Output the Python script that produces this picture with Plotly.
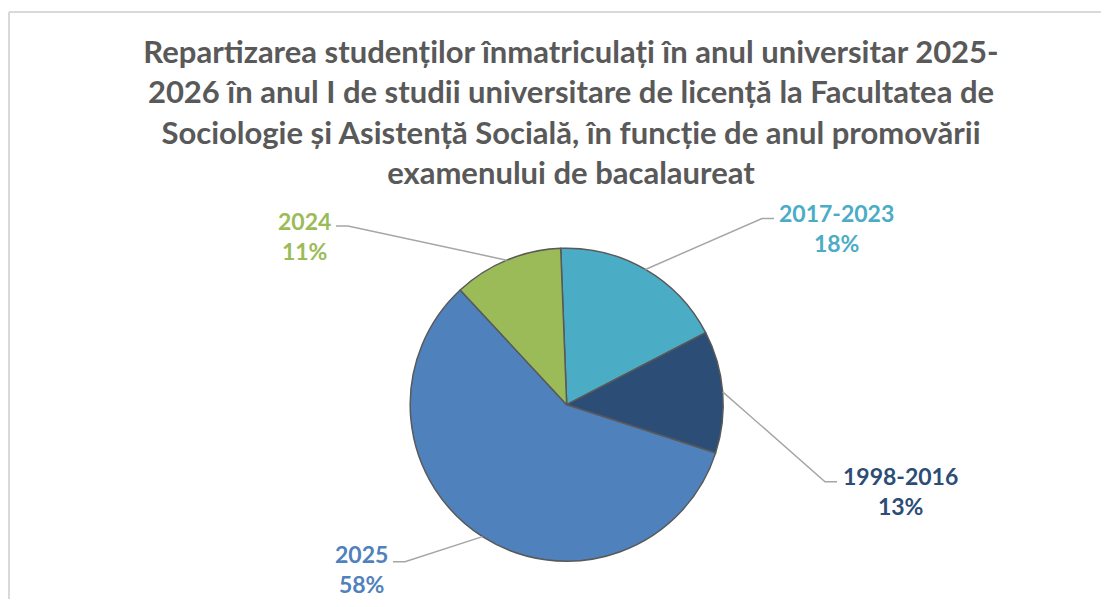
import math
import plotly.graph_objects as go

# ---- data ----
categories = ["2017-2023", "1998-2016", "2025", "2024"]
values = [18.0, 12.6, 58.1, 11.3]
colors = ["#4BACC6", "#2C4D75", "#4F81BD", "#9BBB59"]
title_text = ("Repartizarea studenților înmatriculați în anul universitar 2025-<br>"
              "2026 în anul I de studii universitare de licență la Facultatea de<br>"
              "Sociologie și Asistență Socială, în funcție de anul promovării<br>"
              "examenului de bacalaureat")

# the page body has an 8px margin; the figure fits inside it
BODY = 8
W, H = 1109 - 2 * BODY, 607 - 2 * BODY
CX, CY, R = 566.7, 404.7, 156.5   # window pixel coords
ROT = -2.2

def px(x):
    return (x - BODY) / W

def py(y):
    return 1 - (y - BODY) / H

fig = go.Figure()
fig.add_trace(go.Pie(
    labels=categories, values=values, sort=False, direction="clockwise",
    rotation=ROT, textinfo="none", hoverinfo="label+percent",
    marker=dict(colors=colors, line=dict(color="#595959", width=1.5)),
    domain=dict(x=[px(CX - R), px(CX + R)], y=[py(CY + R), py(CY - R)]),
    showlegend=False,
))

# label block centres and leader elbows (layout positions, window pixels)
label_pos = {
    "2017-2023": dict(cx=836.5, cy=228, elbow=[(774, 218.5), (762, 218.5)]),
    "1998-2016": dict(cx=900, cy=491, elbow=[(837, 481.7), (825, 481.7)]),
    "2025": dict(cx=361, cy=569, elbow=[(393, 561.7), (405, 561.7)]),
    "2024": dict(cx=304.5, cy=236, elbow=[(336, 226), (348, 226)]),
}

total = sum(values)
shapes = []
annotations = []
start = ROT
for cat, val, col in zip(categories, values, colors):
    ang = 360 * val / total
    mid = math.radians(start + ang / 2)
    start += ang
    ex = CX + R * math.sin(mid)
    ey = CY - R * math.cos(mid)
    lp = label_pos[cat]
    (x0, y0), (x1, y1) = lp["elbow"]
    path = f"M {px(x0)},{py(y0)} L {px(x1)},{py(y1)} L {px(ex)},{py(ey)}"
    shapes.append(dict(type="path", xref="paper", yref="paper", path=path,
                       line=dict(color="#A6A6A6", width=1.5)))
    pct = int(val / total * 100 + 0.5)
    annotations.append(dict(
        x=px(lp["cx"]), y=py(lp["cy"]), xref="paper", yref="paper",
        xanchor="center", yanchor="middle", showarrow=False, borderpad=0,
        text=f"{cat}<br>{pct}%", align="center",
        font=dict(family="Lato", size=23, color=col, weight="bold"),
    ))

# chart border (light gray)
shapes.append(dict(type="line", xref="paper", yref="paper",
                   x0=px(9), x1=1.05, y0=py(12), y1=py(12),
                   line=dict(color="#D9D9D9", width=2)))
shapes.append(dict(type="line", xref="paper", yref="paper",
                   x0=px(9), x1=px(9), y0=py(12), y1=-0.05,
                   line=dict(color="#D9D9D9", width=2)))

fig.update_layout(
    width=W, height=H,
    margin=dict(l=0, r=0, t=0, b=0),
    paper_bgcolor="white", plot_bgcolor="white",
    title=dict(text=title_text, x=px(571), xanchor="center",
               y=py(63), yanchor="top", yref="container",
               font=dict(family="Lato", size=31, color="#595959", weight="bold")),
    shapes=shapes, annotations=annotations,
)

fig.write_html("out.html")
